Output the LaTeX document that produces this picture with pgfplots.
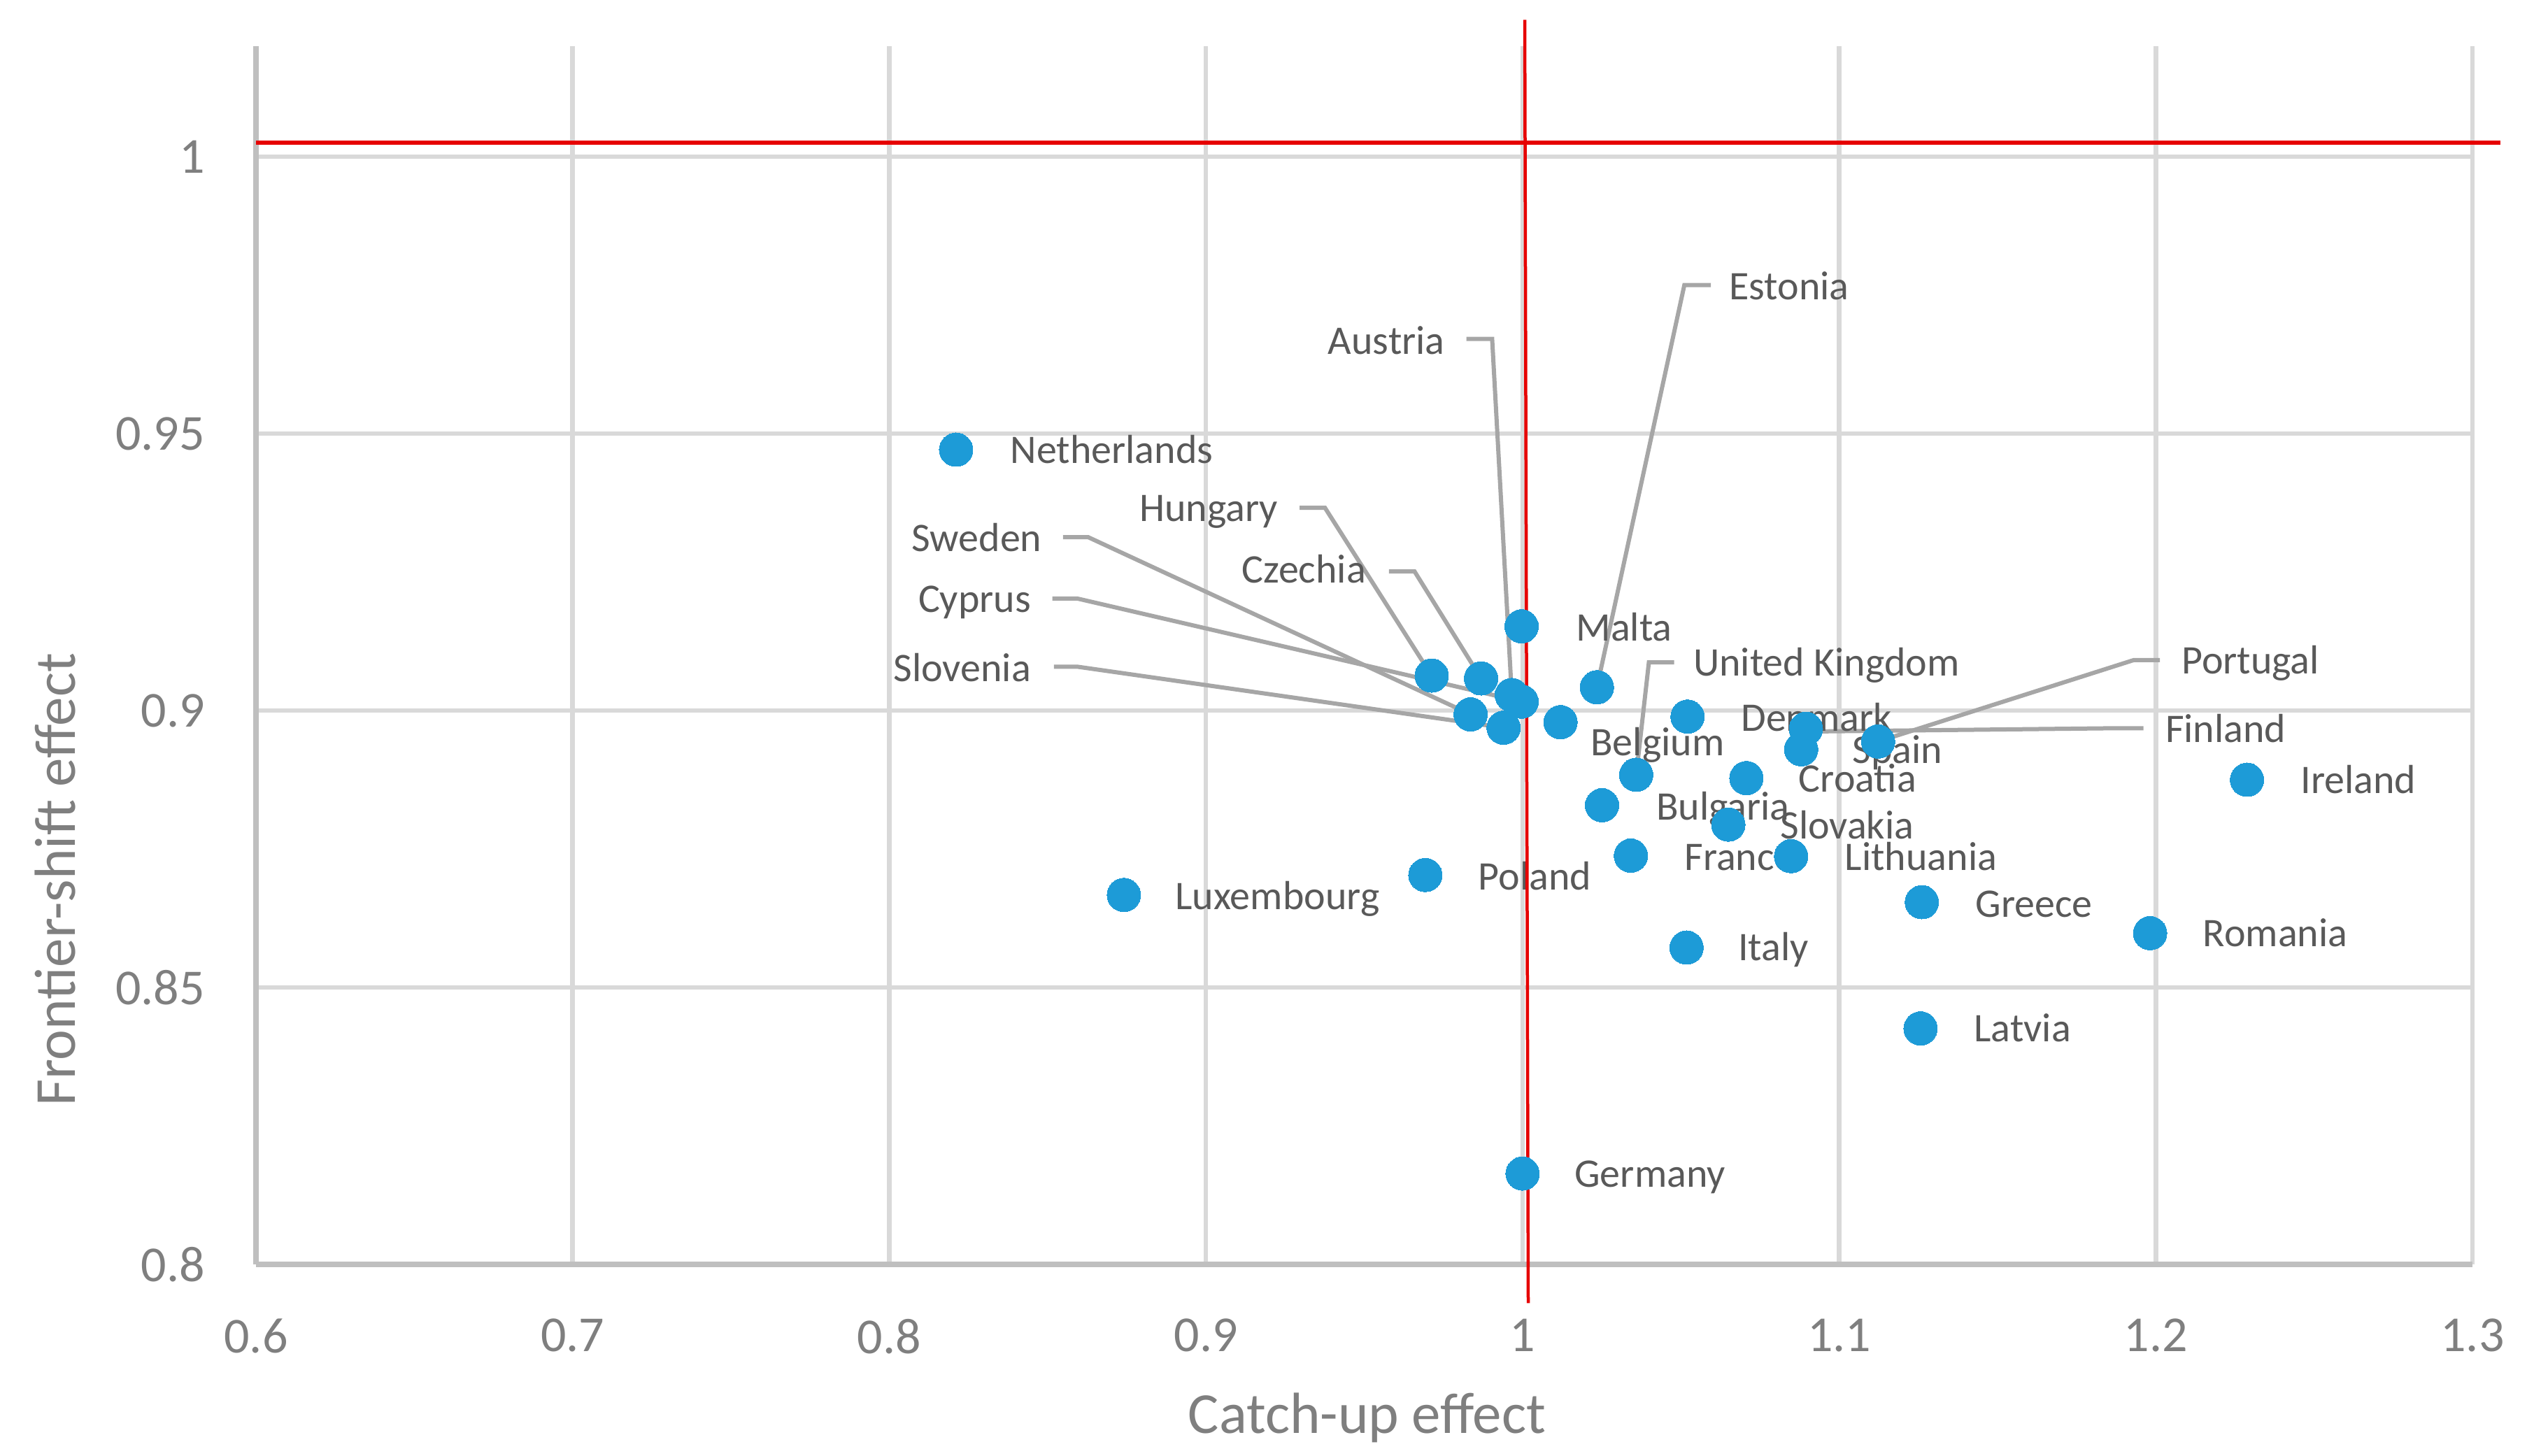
\documentclass[border=0pt]{standalone}
\usepackage{fontspec}
\setmainfont{Carlito}
\usepackage{pgfplots}
\pgfplotsset{compat=1.18}
\definecolor{ptblue}{HTML}{1D9BD7}
\definecolor{lblgrey}{HTML}{595959}
\definecolor{tickgrey}{HTML}{7F7F7F}
\definecolor{leadgrey}{HTML}{A6A6A6}
\definecolor{gridgrey}{HTML}{D9D9D9}
\definecolor{axisgrey}{HTML}{BFBFBF}
\definecolor{refred}{HTML}{E60000}
\begin{document}
\begin{tikzpicture}[
  lbl/.style={anchor=base west, inner sep=0pt, font=\fontsize{5.8}{7}\selectfont, text=lblgrey, yshift=-1.83pt},
  lblr/.style={lbl, anchor=base east},
  leader/.style={draw=leadgrey, line width=0.6pt}
]
\begin{axis}[
  at={(36.6pt,27.4pt)}, anchor=south west,
  width=316.9pt, height=174.24pt, scale only axis,
  xmin=0.6, xmax=1.3, ymin=0.8, ymax=1.02,
  xtick={0.6,0.7,0.8,0.9,1.0,1.1,1.2,1.3},
  xticklabels={0.6,0.7,0.8,0.9,1,1.1,1.2,1.3},
  ytick={0.8,0.85,0.9,0.95,1.0},
  yticklabels={0.8,0.85,0.9,0.95,1},
  axis lines*=left,
  axis line style={-, draw=axisgrey, line width=0.75pt},
  grid=major, grid style={draw=gridgrey, line width=0.65pt},
  major tick length=0pt,
  tick style={draw=none},
  ticklabel style={font=\fontsize{7.2}{8}\selectfont, text=tickgrey, inner sep=0pt},
  xticklabel style={anchor=north, yshift=-7.6pt},
  yticklabel style={anchor=east, xshift=-7.1pt},
  clip=false,
  /pgf/number format/assume math mode=true,
]
% data points (x = catch-up effect, y = frontier-shift effect)
\addplot[only marks, color=ptblue, mark=*, mark size=2.4pt, mark options={draw=ptblue, fill=ptblue, line width=0pt}] table[x=x, y=y] {
country x y
Netherlands 0.8211 0.9471
Luxembourg 0.8741 0.8667
Poland 0.9693 0.8703
Germany 1.0000 0.8164
Malta 0.9997 0.9152
Estonia 1.0235 0.9042
Hungary 0.9713 0.9063
Czechia 0.9869 0.9058
Austria 0.9966 0.9028
Cyprus 0.9997 0.9016
Sweden 0.9836 0.8993
Slovenia 0.9940 0.8969
Belgium 1.0120 0.8979
UnitedKingdom 1.0359 0.8884
Denmark 1.0521 0.8989
Bulgaria 1.0251 0.8829
France 1.0342 0.8738
Italy 1.0518 0.8572
Slovakia 1.0650 0.8794
Croatia 1.0707 0.8878
Lithuania 1.0848 0.8737
Finland 1.0895 0.8967
Spain 1.0880 0.8930
Portugal 1.1123 0.8944
Ireland 1.2288 0.8875
Greece 1.1261 0.8654
Romania 1.1982 0.8598
Latvia 1.1257 0.8426
};
% leader lines
\draw[leader] (axis cs:0.9823,0.9671) -- (axis cs:0.9904,0.9671) -- (axis cs:0.9966,0.9028);
\draw[leader] (axis cs:1.0595,0.9768) -- (axis cs:1.0511,0.9768) -- (axis cs:1.0235,0.9042);
\draw[leader] (axis cs:0.9296,0.9366) -- (axis cs:0.9376,0.9366) -- (axis cs:0.9713,0.9063);
\draw[leader] (axis cs:0.8549,0.9313) -- (axis cs:0.8628,0.9313) -- (axis cs:0.9836,0.8993);
\draw[leader] (axis cs:0.9578,0.9251) -- (axis cs:0.9659,0.9251) -- (axis cs:0.9869,0.9058);
\draw[leader] (axis cs:0.8515,0.9202) -- (axis cs:0.8595,0.9202) -- (axis cs:0.9997,0.9016);
\draw[leader] (axis cs:0.8520,0.9079) -- (axis cs:0.8595,0.9079) -- (axis cs:0.9940,0.8969);
\draw[leader] (axis cs:1.0479,0.9087) -- (axis cs:1.0399,0.9087) -- (axis cs:1.0359,0.8884);
\draw[leader] (axis cs:1.2013,0.9091) -- (axis cs:1.1930,0.9091) -- (axis cs:1.1123,0.8944);
\draw[leader] (axis cs:1.1961,0.8968) -- (axis cs:1.1870,0.8968) -- (axis cs:1.0900,0.8962);
% data labels
\node[lbl] at (axis cs:0.8378,0.9470) {Netherlands};
\node[lbl] at (axis cs:0.8899,0.8664) {Luxembourg};
\node[lbl] at (axis cs:0.9856,0.8699) {Poland};
\node[lbl] at (axis cs:1.0160,0.8163) {Germany};
\node[lbl] at (axis cs:1.0165,0.9149) {Malta};
\node[lbl] at (axis cs:1.0211,0.8942) {Belgium};
\node[lbl] at (axis cs:1.0535,0.9085) {United Kingdom};
\node[lbl] at (axis cs:1.0686,0.8986) {Denmark};
\node[lbl] at (axis cs:1.1038,0.8928) {Spain};
\node[lbl] at (axis cs:1.0868,0.8876) {Croatia};
\node[lbl] at (axis cs:1.0418,0.8825) {Bulgaria};
\node[lbl] at (axis cs:1.0810,0.8792) {Slovakia};
\node[lbl] at (axis cs:1.0507,0.8735) {France};
\node[lbl] at (axis cs:1.1014,0.8735) {Lithuania};
\node[lbl] at (axis cs:1.0677,0.8572) {Italy};
\node[lbl] at (axis cs:1.1426,0.8650) {Greece};
\node[lbl] at (axis cs:1.2145,0.8597) {Romania};
\node[lbl] at (axis cs:1.1422,0.8425) {Latvia};
\node[lbl] at (axis cs:1.2453,0.8874) {Ireland};
\node[lbl] at (axis cs:1.2077,0.9089) {Portugal};
\node[lbl] at (axis cs:1.2026,0.8965) {Finland};
\node[lbl] at (axis cs:1.0648,0.9765) {Estonia};
\node[lblr] at (axis cs:0.9759,0.9667) {Austria};
\node[lblr] at (axis cs:0.9232,0.9364) {Hungary};
\node[lblr] at (axis cs:0.8486,0.9310) {Sweden};
\node[lblr] at (axis cs:0.9510,0.9253) {Czechia};
\node[lblr] at (axis cs:0.8452,0.9200) {Cyprus};
\node[lblr] at (axis cs:0.8452,0.9076) {Slovenia};
% reference lines
\addplot[refred, line width=0.55pt, mark=none] coordinates {(0.6,1.0025) (1.3088,1.0025)};
\addplot[refred, line width=0.45pt, mark=none] coordinates {(1.0007,1.0247) (1.0018,0.7930)};
% axis titles
\node[anchor=base, font=\fontsize{8.3}{10}\selectfont, text=tickgrey] at (axis description cs:0.5013,-0.1389) {Catch-up effect};
\node[anchor=base, rotate=90, font=\fontsize{8.3}{10}\selectfont, text=tickgrey] at (axis description cs:-0.0817,0.3157) {Frontier-shift effect};
\end{axis}
\pgfresetboundingbox
\path[use as bounding box] (0,0) rectangle (361.3pt,208.2pt);
\end{tikzpicture}
\end{document}
